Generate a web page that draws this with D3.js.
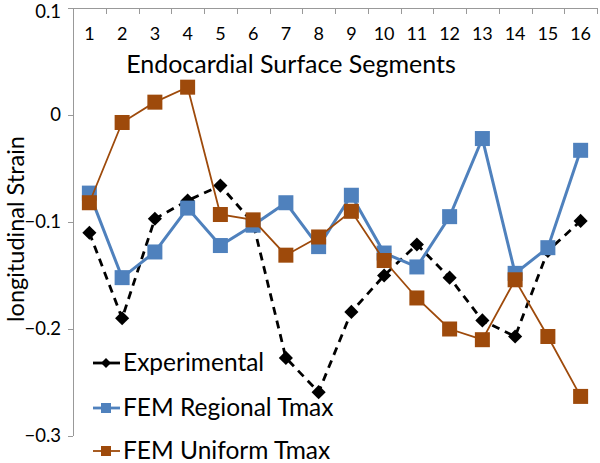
<!DOCTYPE html>
<html><head><meta charset="utf-8">
<script src="https://cdn.jsdelivr.net/npm/d3@7"></script>
<style>body{margin:0;background:#fff}svg{display:block}text{font-family:Lato,"Open Sans",sans-serif}</style>
</head><body>
<svg id="c" width="600" height="463"></svg>
<script>
const categories = ["1","2","3","4","5","6","7","8","9","10","11","12","13","14","15","16"];
const experimental = [-0.110,-0.190,-0.097,-0.080,-0.066,-0.101,-0.227,-0.259,-0.184,-0.150,-0.121,-0.152,-0.192,-0.207,-0.127,-0.099];
const femRegional = [-0.073,-0.152,-0.128,-0.087,-0.122,-0.103,-0.082,-0.123,-0.075,-0.129,-0.142,-0.095,-0.022,-0.148,-0.124,-0.033];
const femUniform = [-0.082,-0.007,0.012,0.026,-0.093,-0.098,-0.131,-0.114,-0.090,-0.136,-0.171,-0.200,-0.210,-0.154,-0.207,-0.263];
const yTicks = [0.1,0,-0.1,-0.2,-0.3];
const seriesNames = ["Experimental","FEM Regional Tmax","FEM Uniform Tmax"];

(function(){
const svg = d3.select("#c");
const mL = 73, mR = 597, mT = 8, mB = 436;
const x = d3.scaleBand().domain(categories).range([mL, mR]);
const y = d3.scaleLinear().domain([-0.3, 0.1]).range([mB, mT]);
const cx = c => x(c) + x.bandwidth()/2;

// Y axis
const yAxis = svg.append("g").attr("transform", `translate(${mL},0)`)
  .call(d3.axisLeft(y).tickValues(yTicks).tickSize(5).tickPadding(7)
    .tickFormat(d => d === 0 ? "0" : d3.format(".1f")(d)));
yAxis.attr("font-size", 18.5).attr("font-family", "Lato,sans-serif");
yAxis.selectAll("path").attr("stroke", "#999").attr("d", `M0.5,${mT}V${mB}`);
yAxis.selectAll("line").attr("stroke", "#999");
yAxis.selectAll("text").attr("font-size", 18.5).attr("fill", "#000")
  .attr("dy", d => d === 0.1 ? "0.5em" : "0.32em");

// X axis at top (value 0.1), ticks between categories pointing down
const xg = svg.append("g").attr("transform", `translate(0,${y(0.1)})`);
xg.append("line").attr("x1", mL).attr("x2", mR).attr("y1", 0.5).attr("y2", 0.5).attr("stroke", "#999");
const bounds = categories.map(c => x(c)).concat([mR]);
xg.selectAll("line.tk").data(bounds).enter().append("line").attr("class","tk")
  .attr("x1", d => Math.round(d)+0.5).attr("x2", d => Math.round(d)+0.5).attr("y1", 0).attr("y2", 6).attr("stroke", "#999");
xg.selectAll("text").data(categories).enter().append("text")
  .attr("x", d => cx(d)).attr("y", 32).attr("text-anchor", "middle").attr("font-size", 18).text(d => d);

// Titles
svg.append("text").attr("x", 291).attr("y", 73).attr("text-anchor","middle").attr("font-size", 25).text("Endocardial Surface Segments");
svg.append("text").attr("transform", "translate(24,229) rotate(-90)").attr("text-anchor","middle").attr("font-size", 23.5).text("longitudinal Strain");

const line = d3.line().x((d,i) => cx(categories[i])).y(d => y(d));
const orange = "#9E4A0B", blue = "#4F81BD";

// Experimental (black, dashed)
svg.append("path").datum(experimental).attr("d", line).attr("fill","none").attr("stroke","#000").attr("stroke-width",2.8).attr("stroke-dasharray","8,6");
svg.selectAll("rect.ed").data(experimental).enter().append("rect").attr("class","ed")
  .attr("x",-5).attr("y",-5).attr("width",10).attr("height",10)
  .attr("transform",(d,i)=>`translate(${cx(categories[i])},${y(d)}) rotate(45)`)
  .attr("fill","#000");

// FEM Regional (blue)
svg.append("path").datum(femRegional).attr("d", line).attr("fill","none").attr("stroke",blue).attr("stroke-width",3);
svg.selectAll("rect.rb").data(femRegional).enter().append("rect").attr("class","rb")
  .attr("x",(d,i)=>cx(categories[i])-7.5).attr("y",d=>y(d)-7.5).attr("width",15).attr("height",15).attr("fill",blue);

// FEM Uniform (orange)
svg.append("path").datum(femUniform).attr("d", line).attr("fill","none").attr("stroke",orange).attr("stroke-width",1.8);
svg.selectAll("rect.ro").data(femUniform).enter().append("rect").attr("class","ro")
  .attr("x",(d,i)=>cx(categories[i])-7.5).attr("y",d=>y(d)-7.5).attr("width",15).attr("height",15).attr("fill",orange);

// Legend
const lg = svg.append("g");
const ly = [363, 408, 451];
const lcol = ["#000", blue, orange];
seriesNames.forEach((n,i) => {
  lg.append("line").attr("x1",93).attr("x2",120).attr("y1",ly[i]).attr("y2",ly[i]).attr("stroke",lcol[i]).attr("stroke-width", i===2?1.8:2.8);
  if (i===0) lg.append("rect").attr("x",-3.5).attr("y",-3.5).attr("width",7).attr("height",7).attr("transform",`translate(106,${ly[i]}) rotate(45)`).attr("fill","#000");
  else lg.append("rect").attr("x",101).attr("y",ly[i]-5).attr("width",10).attr("height",10).attr("fill",lcol[i]);
  lg.append("text").attr("x",123).attr("y",ly[i]+8).attr("font-size",24.5).text(n);
});
})();
</script>
</body></html>
